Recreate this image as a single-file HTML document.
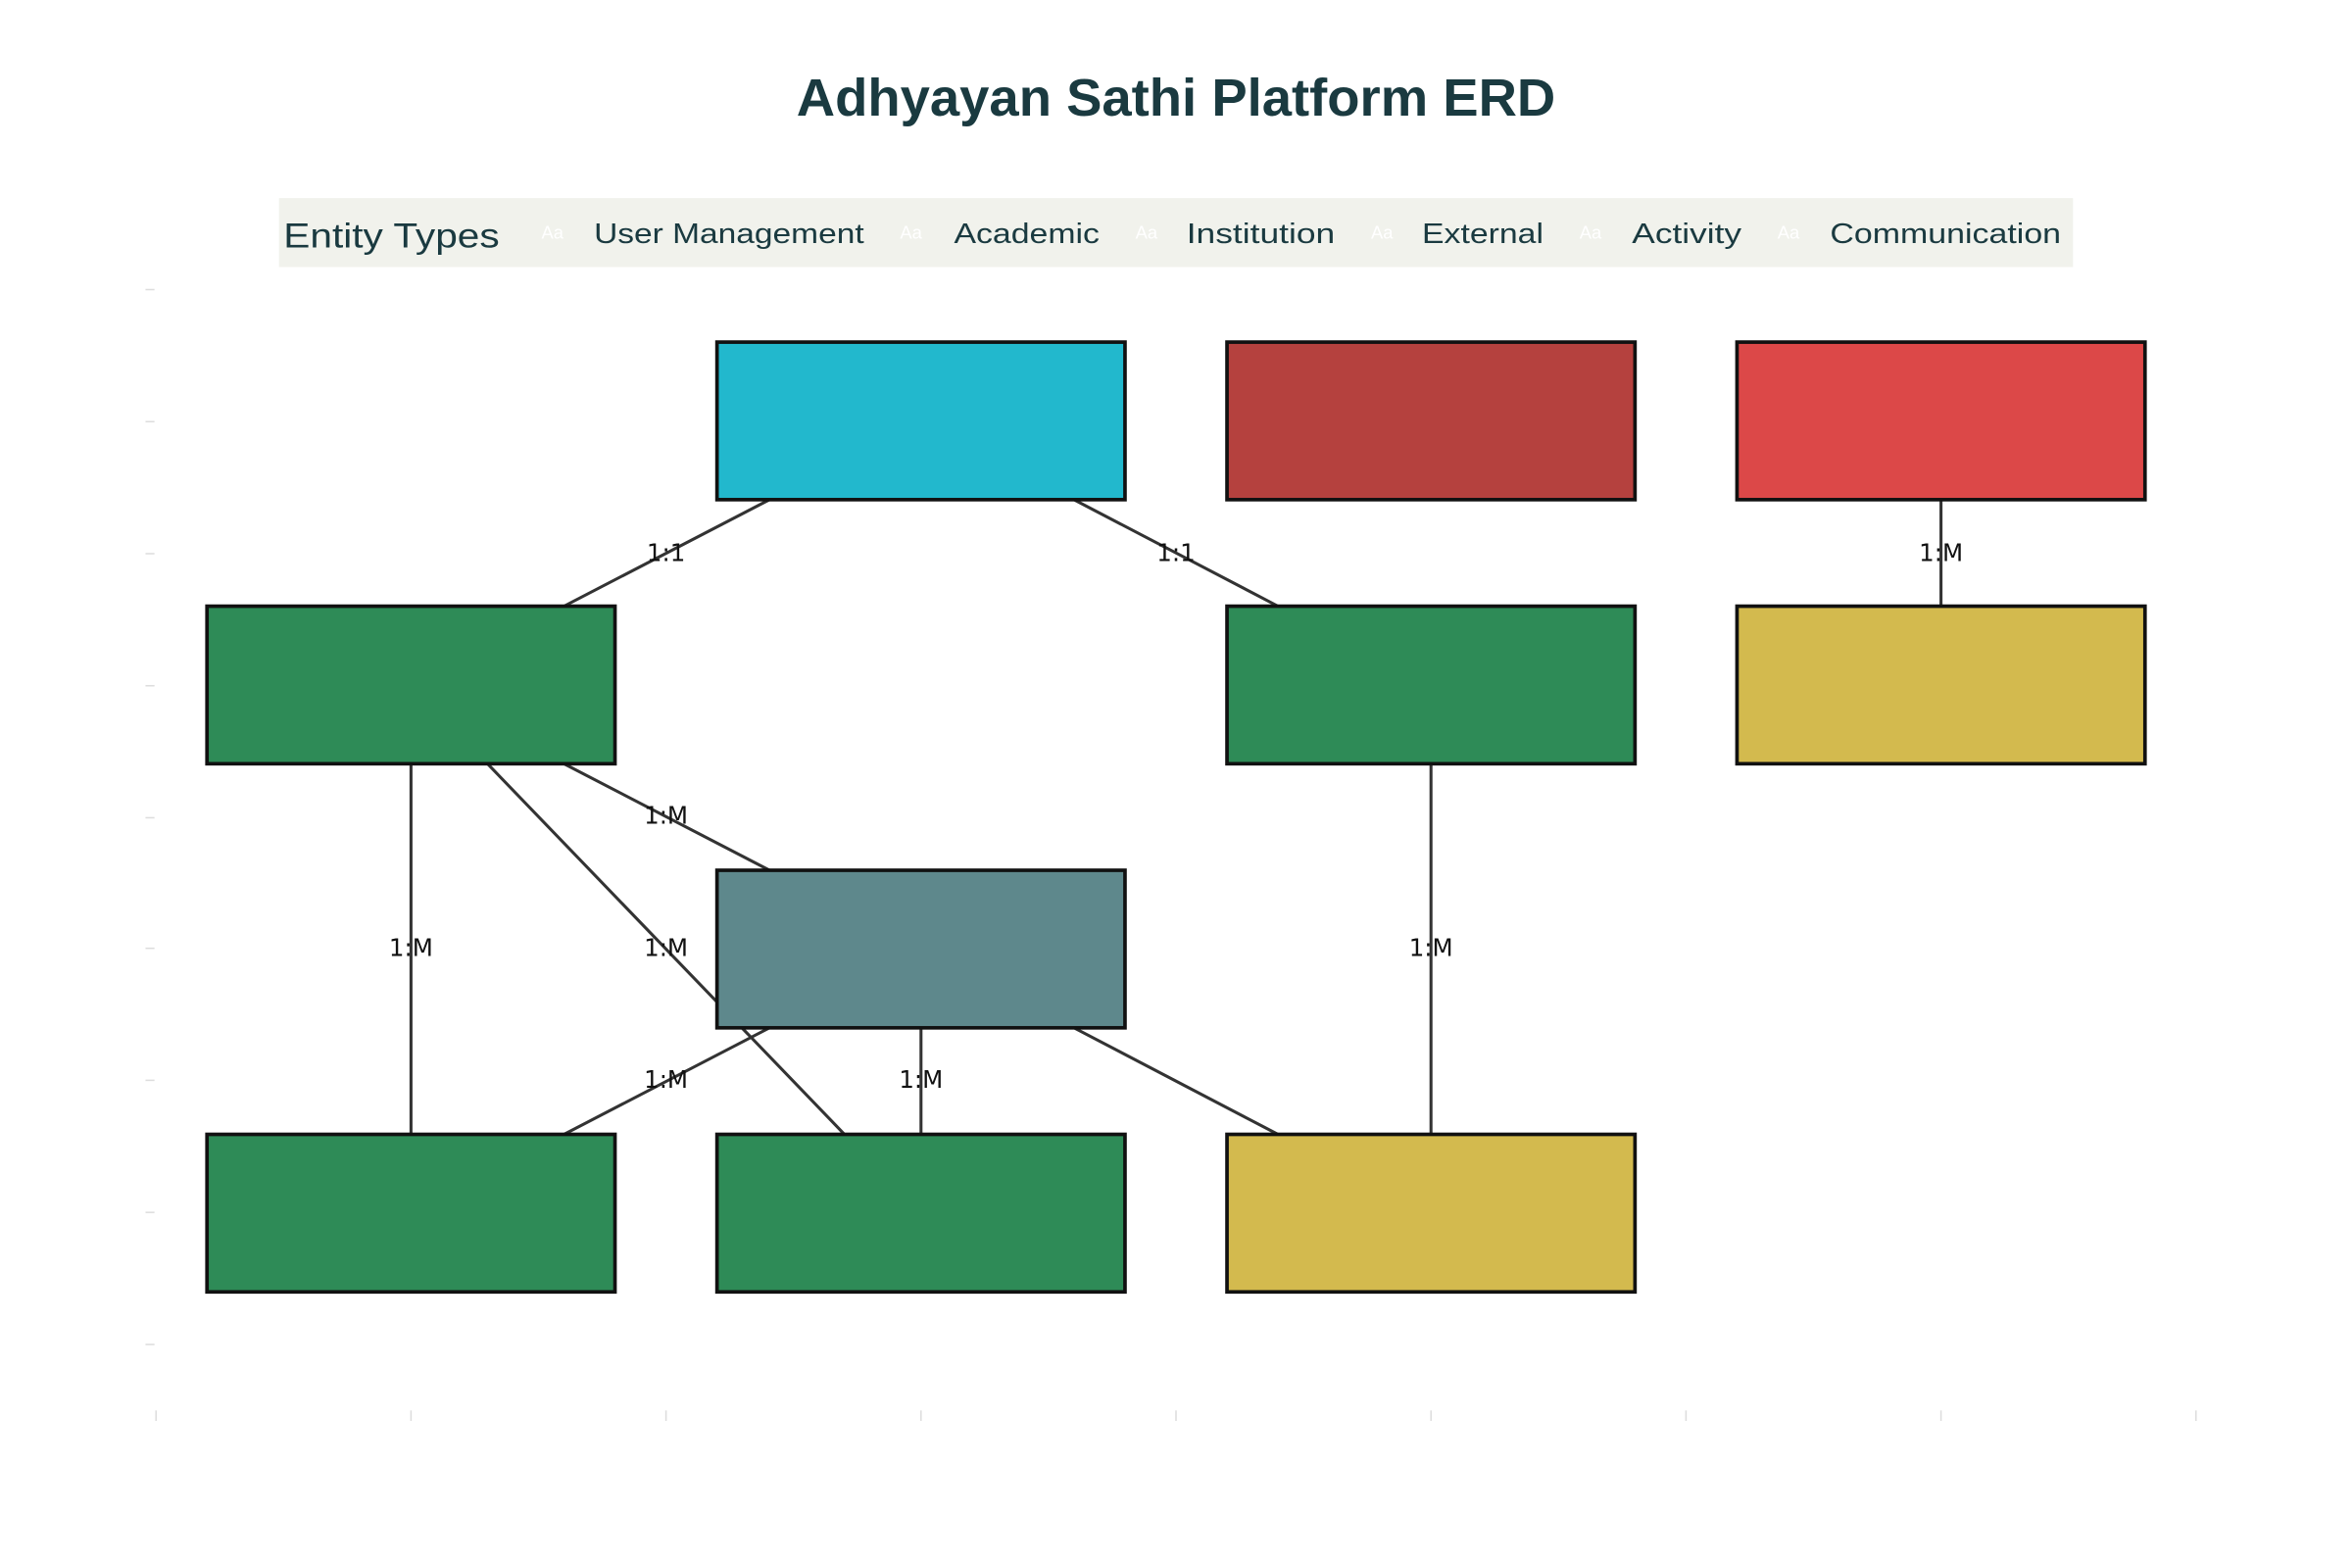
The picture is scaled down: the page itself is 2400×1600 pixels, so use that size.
<!DOCTYPE html>
<html><head><meta charset="utf-8"><style>html,body{margin:0;padding:0;background:#fff}svg{display:block}</style></head>
<body>
<svg width="2400" height="1600" viewBox="0 0 1568 1045" preserveAspectRatio="none" xmlns="http://www.w3.org/2000/svg">
<rect width="1568" height="1045" fill="#fff"/>
<text x="784" y="77" text-anchor="middle" font-family="Liberation Sans, sans-serif" font-weight="bold" font-size="35" fill="#1a3a40" textLength="506" lengthAdjust="spacingAndGlyphs">Adhyayan Sathi Platform ERD</text>
<rect x="186" y="132" width="1196" height="46" fill="#f1f2ec"/>
<g font-family="Liberation Sans, sans-serif" fill="#1a3a40">
<text x="189" y="165" font-size="23" textLength="144" lengthAdjust="spacingAndGlyphs">Entity Types</text>
<g font-size="19">
<text x="396" y="162" textLength="180" lengthAdjust="spacingAndGlyphs">User Management</text>
<text x="636" y="162" textLength="97" lengthAdjust="spacingAndGlyphs">Academic</text>
<text x="791" y="162" textLength="99" lengthAdjust="spacingAndGlyphs">Institution</text>
<text x="948" y="162" textLength="81" lengthAdjust="spacingAndGlyphs">External</text>
<text x="1088" y="162" textLength="73" lengthAdjust="spacingAndGlyphs">Activity</text>
<text x="1220" y="162" textLength="154" lengthAdjust="spacingAndGlyphs">Communication</text>
</g>
<g font-size="12" fill="#fff">
<text x="361" y="159">Aa</text><text x="600" y="159">Aa</text><text x="757" y="159">Aa</text><text x="914" y="159">Aa</text><text x="1053" y="159">Aa</text><text x="1185" y="159">Aa</text>
</g>
</g>
<g stroke="#ddd" stroke-width="1">
<line x1="97" y1="193" x2="103" y2="193"/><line x1="97" y1="281" x2="103" y2="281"/><line x1="97" y1="369" x2="103" y2="369"/><line x1="97" y1="457" x2="103" y2="457"/><line x1="97" y1="545" x2="103" y2="545"/><line x1="97" y1="632" x2="103" y2="632"/><line x1="97" y1="720" x2="103" y2="720"/><line x1="97" y1="808" x2="103" y2="808"/><line x1="97" y1="896" x2="103" y2="896"/>
<line x1="104" y1="940" x2="104" y2="947"/><line x1="274" y1="940" x2="274" y2="947"/><line x1="444" y1="940" x2="444" y2="947"/><line x1="614" y1="940" x2="614" y2="947"/><line x1="784" y1="940" x2="784" y2="947"/><line x1="954" y1="940" x2="954" y2="947"/><line x1="1124" y1="940" x2="1124" y2="947"/><line x1="1294" y1="940" x2="1294" y2="947"/><line x1="1464" y1="940" x2="1464" y2="947"/>
</g>
<g stroke="#333" stroke-width="2" fill="none">
<line x1="513" y1="333" x2="376" y2="404"/>
<line x1="716" y1="333" x2="852" y2="404"/>
<line x1="1294" y1="333" x2="1294" y2="404"/>
<line x1="376" y1="509" x2="513" y2="580"/>
<line x1="274" y1="509" x2="274" y2="756"/>
<line x1="325" y1="509" x2="563" y2="756"/>
<line x1="954" y1="509" x2="954" y2="756"/>
<line x1="513" y1="685" x2="376" y2="756"/>
<line x1="614" y1="685" x2="614" y2="756"/>
<line x1="716" y1="685" x2="852" y2="756"/>
</g>
<g stroke="#111" stroke-width="2.4">
<rect x="478" y="228" width="272" height="105" fill="#22b8cd"/>
<rect x="818" y="228" width="272" height="105" fill="#b5413e"/>
<rect x="1158" y="228" width="272" height="105" fill="#dc4848"/>
<rect x="138" y="404" width="272" height="105" fill="#2e8b57"/>
<rect x="818" y="404" width="272" height="105" fill="#2e8b57"/>
<rect x="1158" y="404" width="272" height="105" fill="#d3ba4e"/>
<rect x="478" y="580" width="272" height="105" fill="#5e888c"/>
<rect x="138" y="756" width="272" height="105" fill="#2e8b57"/>
<rect x="478" y="756" width="272" height="105" fill="#2e8b57"/>
<rect x="818" y="756" width="272" height="105" fill="#d3ba4e"/>
</g>
<g font-family="DejaVu Sans, sans-serif" font-size="16" fill="#111" text-anchor="middle">
<text x="444" y="374">1:1</text>
<text x="784" y="374">1:1</text>
<text x="1294" y="374">1:M</text>
<text x="444" y="549">1:M</text>
<text x="274" y="637">1:M</text>
<text x="444" y="637">1:M</text>
<text x="954" y="637">1:M</text>
<text x="444" y="725">1:M</text>
<text x="614" y="725">1:M</text>
</g>
</svg>
</body></html>
